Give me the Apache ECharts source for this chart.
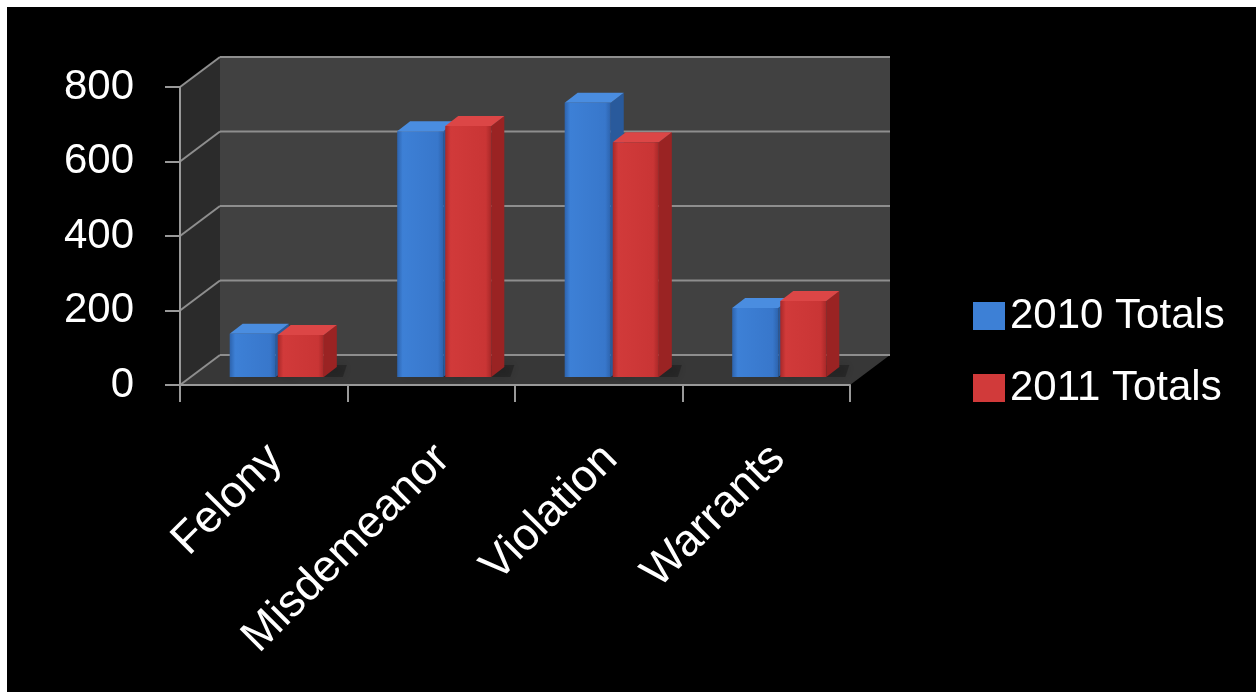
<!DOCTYPE html>
<html><head><meta charset="utf-8">
<script src="https://cdn.jsdelivr.net/npm/echarts@6/dist/echarts.min.js"></script>
<style>
html,body{margin:0;padding:0;background:#fff;width:1256px;height:692px;overflow:hidden}
#c{position:absolute;left:7px;top:7px;width:1249px;height:685px;background:#000}
</style>
</head><body><div id="c"></div>
<script>
const categories = ['Felony', 'Misdemeanor', 'Violation', 'Warrants'];
const totals2010 = [116, 660, 736, 185];
const totals2011 = [113, 674, 630, 204];
const yTicks = [0, 200, 400, 600, 800];
const seriesNames = ['2010 Totals', '2011 Totals'];

const FONT = 'Liberation Sans';
const DX = 40, DY = -30;      // depth of the 3D box
const FX = 13, FY = -8;       // front face of bars, offset from front plane
const BX = 13, BY = -10;      // depth of bars
const GRID = '#8e8e8e';

const chart = echarts.init(document.getElementById('c'));

function wallsRenderer(params, api) {
  const cs = params.coordSys;
  const x0 = cs.x, x1 = cs.x + cs.width;
  const yb = api.coord([0, yTicks[0]])[1];
  const yt = api.coord([0, yTicks[yTicks.length - 1]])[1];
  const children = [
    {type: 'rect', shape: {x: x0 + DX, y: yt + DY, width: x1 - x0, height: yb - yt}, style: {fill: '#414141'}},
    {type: 'polygon', shape: {points: [[x0, yt], [x0 + DX, yt + DY], [x0 + DX, yb + DY], [x0, yb]]}, style: {fill: '#2b2b2b'}},
    {type: 'polygon', shape: {points: [[x0, yb], [x0 + DX, yb + DY], [x1 + DX, yb + DY], [x1, yb]]}, style: {fill: '#373737'}}
  ];
  yTicks.forEach(v => {
    const y = api.coord([0, v])[1];
    children.push({type: 'line', shape: {x1: x0 + DX, y1: y + DY, x2: x1 + DX, y2: y + DY}, style: {stroke: GRID, lineWidth: 2}});
    children.push({type: 'line', shape: {x1: x0, y1: y, x2: x0 + DX, y2: y + DY}, style: {stroke: GRID, lineWidth: 2}});
  });
  return {type: 'group', children};
}

function barRenderer(which, pal) {
  return function (params, api) {
    const cat = api.value(0), val = api.value(1);
    const base = api.coord([cat, 0]);
    const top = api.coord([cat, val]);
    const band = api.size([1, 0])[0];
    const w = band * 0.275;
    const cx = base[0] + FX;
    const left = which === 0 ? cx - 1 - w : cx + 1;
    const r = left + w;
    const yb = base[1] + FY, yt = top[1] + FY;
    return {type: 'group', children: [
      {type: 'polygon', shape: {points: [[left + 6, yb], [r + BX + 6, yb], [r + BX + 10, yb + BY - 2], [left + BX, yb + BY - 2]]},
        style: {fill: 'rgba(0,0,0,0.25)', shadowBlur: 8, shadowColor: 'rgba(0,0,0,0.5)'}},
      {type: 'polygon', shape: {points: [[r, yt], [r + BX, yt + BY], [r + BX, yb + BY], [r, yb]]}, style: {fill: pal.side}},
      {type: 'polygon', shape: {points: [[left, yt], [r, yt], [r + BX, yt + BY], [left + BX, yt + BY]]}, style: {fill: pal.top}},
      {type: 'rect', shape: {x: left, y: yt, width: w, height: yb - yt},
        style: {fill: new echarts.graphic.LinearGradient(0, 0, 1, 0, [
          {offset: 0, color: pal.edge}, {offset: 0.12, color: pal.front},
          {offset: 0.88, color: pal.front2}, {offset: 1, color: pal.edge}])}}
    ]};
  };
}

const blue = {front: '#3d80d6', front2: '#3877cb', edge: '#2d63ad', side: '#295a9c', top: '#4a8de0'};
const red = {front: '#d13a3a', front2: '#c93535', edge: '#a82828', side: '#9a2323', top: '#dc4646'};

chart.setOption({
  backgroundColor: '#000',
  animation: false,
  grid: {left: 173, top: 80, width: 670, height: 298, containLabel: false},
  legend: {
    orient: 'vertical', left: 961, top: 282, itemWidth: 32, itemHeight: 28, itemGap: 28, icon: 'rect',
    textStyle: {color: '#fff', fontSize: 42, fontFamily: FONT, lineHeight: 44},
    data: seriesNames
  },
  xAxis: {
    type: 'category', data: categories, z: 10,
    axisLine: {show: true, lineStyle: {color: '#999', width: 2}},
    axisTick: {show: true, length: 17, alignWithLabel: false, lineStyle: {color: '#999', width: 2}},
    axisLabel: {rotate: 45, interval: 0, color: '#fff', fontSize: 45, fontFamily: FONT, margin: 47,
      verticalAlign: 'top', padding: [0, 6, 0, 0]}
  },
  yAxis: {
    type: 'value', min: 0, max: 800, interval: 200, z: 10,
    axisLine: {show: true, lineStyle: {color: '#999', width: 2}},
    axisTick: {show: true, length: 15, lineStyle: {color: '#999', width: 2}},
    splitLine: {show: false},
    axisLabel: {color: '#fff', fontSize: 42, fontFamily: FONT, margin: 46}
  },
  series: [
    {type: 'custom', name: 'walls', silent: true, z: 1, data: [[0, 0]], renderItem: wallsRenderer},
    {type: 'custom', name: seriesNames[0], z: 3, itemStyle: {color: blue.front},
      data: totals2010.map((v, i) => [i, v]), renderItem: barRenderer(0, blue)},
    {type: 'custom', name: seriesNames[1], z: 4, itemStyle: {color: red.front},
      data: totals2011.map((v, i) => [i, v]), renderItem: barRenderer(1, red)}
  ]
});
</script>
</body></html>
